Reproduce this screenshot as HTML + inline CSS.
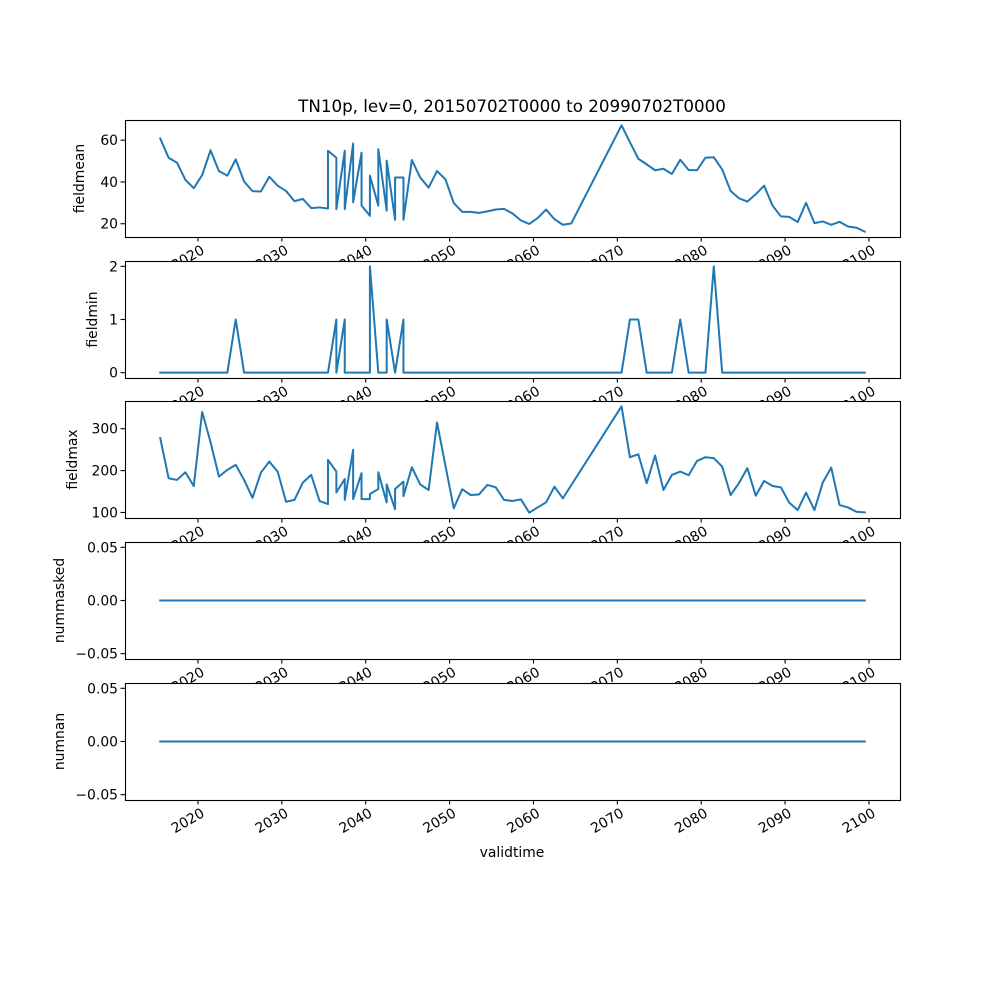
<!DOCTYPE html>
<html><head><meta charset="utf-8"><style>
html,body{margin:0;padding:0;background:#fff;}
svg text{font-family:"DejaVu Sans","Liberation Sans",sans-serif;fill:#000;}
</style></head><body>
<svg id="fig" width="1000" height="1000" viewBox="0 0 1000 1000" xmlns="http://www.w3.org/2000/svg">
<rect width="1000" height="1000" fill="#fff"/>
<text x="512" y="112" font-size="16.7" text-anchor="middle">TN10p, lev=0, 20150702T0000 to 20990702T0000</text>
<text x="512" y="857" font-size="13.9" text-anchor="middle">validtime</text>
</svg>
<script>
const years = [2015.5,2016.5,2017.5,2018.5,2019.5,2020.5,2021.5,2022.5,2023.5,2024.5,2025.5,2026.5,2027.5,2028.5,2029.5,2030.5,2031.5,2032.5,2033.5,2034.5,
2035.5,2035.5,2036.5,2036.5,2037.5,2037.5,2038.5,2038.5,2039.5,2039.5,2040.5,2040.5,2041.5,2041.5,2042.5,2042.5,2043.5,2043.5,2044.5,2044.5,
2045.5,2046.5,2047.5,2048.5,2049.5,2050.5,2051.5,2052.5,2053.5,2054.5,2055.5,2056.5,2057.5,2058.5,2059.5,2060.5,2061.5,2062.5,2063.5,2064.5,
2070.5,2071.5,2072.5,2073.5,2074.5,2075.5,2076.5,2077.5,2078.5,2079.5,2080.5,2081.5,2082.5,2083.5,2084.5,2085.5,2086.5,2087.5,2088.5,2089.5,
2090.5,2091.5,2092.5,2093.5,2094.5,2095.5,2096.5,2097.5,2098.5,2099.5];
const fieldmean = [60.8,51.6,49.2,41,37,43.3,55.2,45.2,43,50.8,40.2,35.6,35.4,42.5,38.2,35.7,30.8,31.9,27.5,27.8,
27.3,54.9,51.6,27,54.9,27,58.4,30.3,54,28.7,23.8,43,28.7,55.7,26.3,50.2,21.9,42.1,42.1,21.9,
50.5,42.1,37.3,45.2,41.3,29.9,25.7,25.7,25.2,25.9,26.8,27.1,24.9,21.6,19.9,22.7,26.8,22.2,19.5,20.1,
67.1,59,51.1,48.4,45.6,46.3,43.8,50.6,45.7,45.6,51.6,51.8,46,35.7,32.2,30.6,34.1,38.2,28.7,23.5,
23.3,20.8,30,20.3,21.1,19.5,20.9,18.7,18.1,16.2];
const fieldmin = [0,0,0,0,0,0,0,0,0,1,0,0,0,0,0,0,0,0,0,0,
0,0,1,0,1,0,0,0,0,0,0,2,0,0,0,1,0,0,1,0,
0,0,0,0,0,0,0,0,0,0,0,0,0,0,0,0,0,0,0,0,
0,1,1,0,0,0,0,1,0,0,0,2,0,0,0,0,0,0,0,0,
0,0,0,0,0,0,0,0,0,0];
const fieldmax = [277.7,181.8,177.7,196,163,340,268,185.6,201.7,213.7,177.7,135,195,221.6,197.6,125.7,130,171.2,189.7,127.3,
120,225.6,197.6,148,180,130,249.6,132,193.8,132,132,144,156,196,124,167,108,156,173.6,139,
208,167,153.7,315,212,110,155.5,141.7,143,165.7,160,130,127.3,131.4,99.5,112,124,161.6,133.8,165,
353.5,232,239,170,236,153.7,189.7,197.6,189,223,232,229.7,209.6,141.7,170,205.8,140,175.3,163.3,160,
123.3,105.8,147.2,105.8,172,207,117.7,112,101.7,100.2];
const nummasked = years.map(()=>0);
const numnan = years.map(()=>0);
const xTicks = [2020,2030,2040,2050,2060,2070,2080,2090,2100];
const xTickLabels = ["2020","2030","2040","2050","2060","2070","2080","2090","2100"];
const yTicks1 = [20,40,60], yTickLabels1 = ["20","40","60"];
const yTicks2 = [0,1,2], yTickLabels2 = ["0","1","2"];
const yTicks3 = [100,200,300], yTickLabels3 = ["100","200","300"];
const yTicks4 = [-0.05,0,0.05], yTickLabels4 = ["\u22120.05","0.00","0.05"];
const yTicks5 = [-0.05,0,0.05], yTickLabels5 = ["\u22120.05","0.00","0.05"];

const NS="http://www.w3.org/2000/svg";
const svg=document.getElementById('fig');
const L=125,R=900,H=117;
const xmin=2011.3,xmax=2103.7;
function xs(v){return L+(v-xmin)/(xmax-xmin)*(R-L);}
function mk(tag,attrs,parent){const e=document.createElementNS(NS,tag);for(const k in attrs)e.setAttribute(k,attrs[k]);(parent||svg).appendChild(e);return e;}
function range(a){let mn=Math.min(...a),mx=Math.max(...a);if(mx===mn){return[mn-0.055,mx+0.055];}const m=(mx-mn)*0.05;return[mn-m,mx+m];}
const panels=[
 {name:'fieldmean',top:120,data:fieldmean,ticks:yTicks1,labels:yTickLabels1,lx:84},
 {name:'fieldmin',top:261,data:fieldmin,ticks:yTicks2,labels:yTickLabels2,lx:97},
 {name:'fieldmax',top:401,data:fieldmax,ticks:yTicks3,labels:yTickLabels3,lx:77},
 {name:'nummasked',top:542,data:nummasked,ticks:yTicks4,labels:yTickLabels4,lx:64},
 {name:'numnan',top:683,data:numnan,ticks:yTicks5,labels:yTickLabels5,lx:64}
];
panels.forEach(p=>{
 const g=mk('g',{});
 
 
 const [ymn,ymx]=range(p.data);
 const ys=v=>p.top+H-(v-ymn)/(ymx-ymn)*H;
 const bg=mk('rect',{x:L,y:p.top,width:R-L,height:H,fill:'#fff'},g);
 
 
 let d='';
 years.forEach((yr,i)=>{d+=(i?'L':'M')+xs(yr).toFixed(2)+' '+ys(p.data[i]).toFixed(2);});
 const line=mk('path',{d:d,fill:'none',stroke:'#1f77b4','stroke-width':2,'stroke-linejoin':'round','stroke-linecap':'square'},g);
 
 
 const fr=mk('rect',{x:L+0.5,y:p.top+0.5,width:R-L,height:H,fill:'none',stroke:'#000','stroke-width':1.1},g);
 
 
 p.ticks.forEach((t,i)=>{
  const y=ys(t);
  mk('line',{x1:L-4.5,x2:L,y1:y,y2:y,stroke:'#000','stroke-width':1.1},g);
  const tx=mk('text',{x:L-7,y:y+5,'font-size':13.9,'text-anchor':'end'},g);
  tx.textContent=p.labels[i];
  
  
 });
 xTicks.forEach((t,i)=>{
  const x=xs(t),y=p.top+H;
  mk('line',{x1:x,x2:x,y1:y,y2:y+4.5,stroke:'#000','stroke-width':1.1},g);
  const tx=mk('text',{x:x+3,y:y+17,'font-size':13.9,'text-anchor':'end',transform:'rotate(-30 '+(x+3)+' '+(y+8)+')'},g);
  tx.textContent=xTickLabels[i];
  
  
 });
 const cy=p.top+H/2;
 const yl=mk('text',{x:p.lx,y:cy,'font-size':13.9,'text-anchor':'middle',transform:'rotate(-90 '+p.lx+' '+cy+')'},g);
 yl.textContent=p.name;
 
 
});
</script>
</body></html>
